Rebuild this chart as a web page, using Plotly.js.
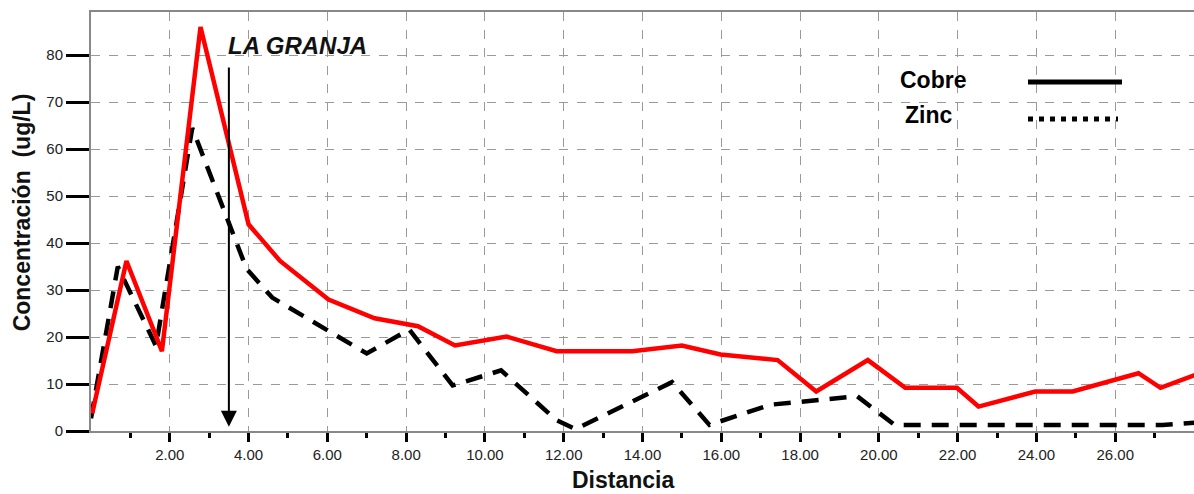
<!DOCTYPE html>
<html>
<head>
<meta charset="utf-8">
<script src="https://cdn.plot.ly/plotly-3.0.1.min.js"></script>
<style>html,body{margin:0;padding:0;background:#fff;}#chart{width:1194px;height:494px;}</style>
</head>
<body>
<div id="chart"></div>
<script>
// Data
const cobreX = [0.03, 0.9, 1.8, 2.78, 4.0, 4.8, 6.03, 7.2, 8.3, 9.24, 10.55, 11.82, 13.74, 15.0, 15.98, 17.43, 18.41, 19.72, 20.67, 21.98, 22.53, 23.97, 24.92, 26.59, 27.15, 28.3];
const cobreY = [3.7, 36.2, 17.0, 86.0, 44.0, 36.2, 28.0, 24.0, 22.3, 18.2, 20.1, 17.0, 17.0, 18.2, 16.3, 15.1, 8.4, 15.1, 9.2, 9.2, 5.2, 8.4, 8.4, 12.3, 9.2, 12.8];
const zincX = [0.0, 0.68, 1.65, 2.57, 3.95, 4.6, 7.0, 8.08, 9.18, 10.41, 11.8, 12.3, 14.75, 15.7, 17.25, 19.45, 20.4, 27.2, 28.1];
const zincY = [2.7, 35.0, 18.1, 64.5, 34.5, 28.4, 16.5, 21.6, 9.7, 12.9, 2.4, 0.4, 10.4, 1.3, 5.6, 7.4, 1.3, 1.3, 1.8];
const seriesNames = ['Cobre', 'Zinc'];
const xTickVals = [2, 4, 6, 8, 10, 12, 14, 16, 18, 20, 22, 24, 26];
const xTickText = ['2.00', '4.00', '6.00', '8.00', '10.00', '12.00', '14.00', '16.00', '18.00', '20.00', '22.00', '24.00', '26.00'];
const xMinorVals = [1, 3, 5, 7, 9, 11, 13, 15, 17, 19, 21, 23, 25, 27];
const yTickVals = [0, 10, 20, 30, 40, 50, 60, 70, 80];
const markerLabel = 'LA GRANJA';
const markerX = 3.5;
const arrowTopY = 77.7;
const arrowTipY = 0.9;
const xTitle = 'Distancia';
const yTitle = 'Concentración  (ug/L)';

const FONT = 'Liberation Sans, Arial, sans-serif';

const traces = [
  {x: zincX, y: zincY, mode: 'lines', name: seriesNames[1], showlegend: false,
   line: {color: '#000000', width: 4.5, dash: '17px,11px'}},
  {x: cobreX, y: cobreY, mode: 'lines', name: seriesNames[0], showlegend: false,
   line: {color: '#ff0000', width: 4.5}}
];

const layout = {
  width: 1194, height: 494,
  margin: {l: 91, r: 0, t: 12, b: 63, pad: 0},
  paper_bgcolor: '#ffffff', plot_bgcolor: '#ffffff',
  font: {family: FONT, color: '#222'},
  showlegend: false,
  xaxis: {
    range: [0, 28], autorange: false,
    tickvals: xTickVals, ticktext: xTickText,
    ticks: 'outside', ticklen: 9, tickwidth: 3, tickcolor: '#000',
    tickfont: {family: FONT, size: 15, color: '#222'},
    showline: true, linecolor: '#888', linewidth: 2, mirror: true,
    showgrid: true, gridcolor: '#9a9a9a', gridwidth: 1, griddash: 'dash',
    zeroline: false,
    minor: {tickvals: xMinorVals, ticks: 'outside', ticklen: 5, tickwidth: 3, tickcolor: '#000', showgrid: false}
  },
  yaxis: {
    range: [0, 89.2], autorange: false,
    tickvals: yTickVals,
    ticks: 'outside', ticklen: 23, tickwidth: 3, tickcolor: '#000',
    tickfont: {family: FONT, size: 15, color: '#222'},
    showline: true, linecolor: '#888', linewidth: 2,
    showgrid: true, gridcolor: '#9a9a9a', gridwidth: 1, griddash: 'dash',
    zeroline: false
  },
  annotations: [
    {text: '<b>' + xTitle + '</b>', xref: 'paper', yref: 'paper', x: 0.482, y: -0.117,
     xanchor: 'center', yanchor: 'middle', showarrow: false,
     font: {family: FONT, size: 23, color: '#111'}},
    {text: '<b>' + yTitle + '</b>', xref: 'paper', yref: 'paper', x: -0.0625, y: 0.522,
     xanchor: 'center', yanchor: 'middle', showarrow: false, textangle: -90,
     font: {family: FONT, size: 23, color: '#111'}},
    {text: '<b><i>' + markerLabel + '</i></b>', xref: 'x', yref: 'y', x: markerX - 0.07, y: 82.1,
     xanchor: 'left', yanchor: 'middle', showarrow: false,
     font: {family: FONT, size: 24, color: '#111'}},
    {text: '', xref: 'x', yref: 'y', x: markerX, y: arrowTipY, axref: 'x', ayref: 'y', ax: markerX, ay: arrowTopY,
     showarrow: true, arrowhead: 2, arrowsize: 1.6, arrowwidth: 2, arrowcolor: '#000'},
    {text: '<b>' + seriesNames[0] + '</b>', xref: 'paper', yref: 'paper', x: 0.7634, y: 0.8376,
     xanchor: 'center', yanchor: 'middle', showarrow: false,
     font: {family: FONT, size: 23, color: '#000'}},
    {text: '<b>' + seriesNames[1] + '</b>', xref: 'paper', yref: 'paper', x: 0.7597, y: 0.754,
     xanchor: 'center', yanchor: 'middle', showarrow: false,
     font: {family: FONT, size: 23, color: '#000'}}
  ],
  shapes: [
    {type: 'line', xref: 'paper', yref: 'paper', x0: 0.8495, x1: 0.9347, y0: 0.8328, y1: 0.8328,
     line: {color: '#000', width: 5}},
    {type: 'line', xref: 'paper', yref: 'paper', x0: 0.8495, x1: 0.9311, y0: 0.7444, y1: 0.7444,
     line: {color: '#000', width: 5, dash: '5px,6px'}}
  ]
};

Plotly.newPlot('chart', traces, layout, {displayModeBar: false, staticPlot: true});
</script>
</body>
</html>
